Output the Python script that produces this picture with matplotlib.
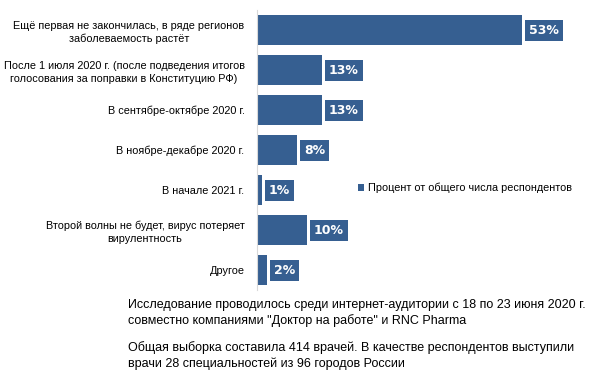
import matplotlib.pyplot as plt

plt.rcParams['font.family'] = ['Liberation Sans', 'DejaVu Sans']

categories = [
    'Ещё первая не закончилась, в ряде регионов\nзаболеваемость растёт',
    'После 1 июля 2020 г. (после подведения итогов\nголосования за поправки в Конституцию РФ)',
    'В сентябре-октябре 2020 г.',
    'В ноябре-декабре 2020 г.',
    'В начале 2021 г.',
    'Второй волны не будет, вирус потеряет\nвирулентность',
    'Другое',
]
values = [53, 13, 13, 8, 1, 10, 2]
series_name = 'Процент от общего числа респондентов'
notes = [
    'Исследование проводилось среди интернет-аудитории с 18 по 23 июня 2020 г.\n'
    'совместно компаниями "Доктор на работе" и RNC Pharma',
    'Общая выборка составила 414 врачей. В качестве респондентов выступили\n'
    'врачи 28 специальностей из 96 городов России',
]

blue = '#365f91'

fig = plt.figure(figsize=(6, 3.82), dpi=100)
ax = fig.add_axes([257 / 600, 92 / 382, 300 / 600, 280 / 382])

ypos = list(range(len(values)))
ax.barh(ypos, values, height=0.77, color=blue, label=series_name)
ax.set_xlim(0, 60)
ax.set_ylim(len(values) - 0.5, -0.5)

for y, v in zip(ypos, values):
    ax.annotate(f'{v}%', (v, y), xytext=(5, 0), textcoords='offset points',
                ha='left', va='center', color='white', fontweight='bold',
                fontsize=9, family='DejaVu Sans',
                bbox=dict(boxstyle='square,pad=0.32', fc=blue, ec='none'))

ax.set_xticks([])
ax.set_yticks(ypos)
ax.set_yticklabels(categories, fontsize=7.8, multialignment='center',
                   linespacing=1.35)
ax.tick_params(axis='y', length=0, pad=9)
for s in ['top', 'right', 'bottom']:
    ax.spines[s].set_visible(False)
ax.spines['left'].set_color('#d9d9d9')

fig.legend(loc='center left', bbox_to_anchor=(348 / 600, 1 - 188 / 382),
           frameon=False, fontsize=7.8, handlelength=0.6, handleheight=0.6,
           handletextpad=0.3)

fig.text(128 / 600, 1 - 299 / 382, notes[0], fontsize=9, va='top',
         linespacing=1.35)
fig.text(128 / 600, 1 - 341 / 382, notes[1], fontsize=9, va='top',
         linespacing=1.35)

fig.savefig('out.png', dpi=100)
